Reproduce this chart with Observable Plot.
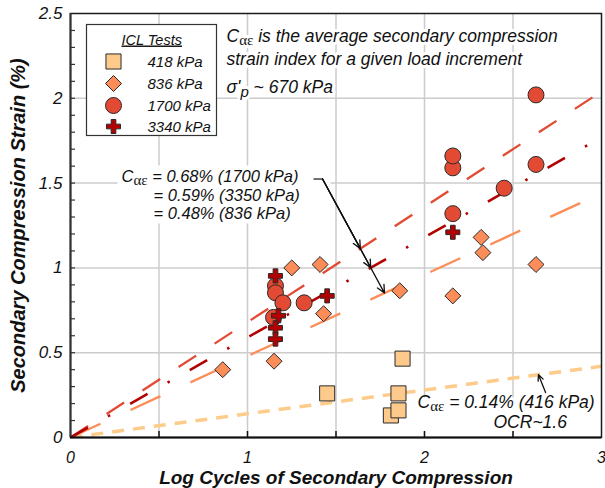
<!DOCTYPE html>
<html><head><meta charset="utf-8">
<script src="https://cdn.jsdelivr.net/npm/d3@7"></script>
<script src="https://cdn.jsdelivr.net/npm/@observablehq/plot@0.6"></script>
<style>
html,body{margin:0;padding:0;background:#fff;}
</style>
</head><body><div id="chart"></div>
<script>
// ---------------- data ----------------
const x418 = [1.45, 1.876, 1.853, 1.81, 1.853];
const y418 = [0.26, 0.465, 0.26, 0.13, 0.16];
const x836 = [0.86, 1.15, 1.25, 1.41, 1.43, 1.86, 2.16, 2.32, 2.33, 2.63];
const y836 = [0.40, 0.45, 1.00, 1.02, 0.73, 0.865, 0.835, 1.18, 1.09, 1.02];
const x1700 = [1.158, 1.158, 1.20, 1.147, 1.32, 2.16, 2.16, 2.16, 2.45, 2.63, 2.63];
const y1700 = [0.894, 0.853, 0.794, 0.708, 0.794, 1.32, 1.59, 1.66, 1.47, 1.61, 2.02];
const x3340 = [1.158, 1.175, 1.158, 1.158, 1.45, 2.16];
const y3340 = [0.953, 0.718, 0.647, 0.58, 0.835, 1.21];
const seriesNames = ["418 kPa", "836 kPa", "1700 kPa", "3340 kPa"];

// average secondary compression strain index (% per log cycle)
const trendNames = ["416 kPa", "836 kPa", "1700 kPa", "3350 kPa"];
const trendSlopes = [0.14, 0.48, 0.68, 0.59];

const xTicks = [0, 1, 2, 3];
const yTicks = [0, 0.5, 1, 1.5, 2, 2.5];
const xGrid = [0.5, 1, 1.5, 2, 2.5];
const yGrid = [0.5, 1, 1.5, 2];

const xTitle = "Log Cycles of Secondary Compression";
const yTitle = "Secondary Compression Strain (%)";
const legendTitle = "ICL Tests";
const noteLines = ["C_{αε} is the average secondary compression", "strain index for a given load increment", "σ'_{p} ~ 670 kPa"];
const calloutLines = ["C_{αε} = 0.68% (1700 kPa)", "= 0.59% (3350 kPa)", "= 0.48% (836 kPa)"];
const lowLines = ["C_{αε} = 0.14% (416 kPa)", "OCR~1.6"];

// ---------------- layout / styles ----------------
const W = 605, H = 488;
const M = {top: 13, right: 4, bottom: 51, left: 70};
const FW = W - M.left - M.right, FH = H - M.top - M.bottom;
const FONT = "'Liberation Sans', Arial, sans-serif";
const INK = "#111";
const NOTE_FS = 17.5;
const CALL_FS = 16.5;

const seriesX = [x418, x836, x1700, x3340];
const seriesY = [y418, y836, y1700, y3340];
const sStyle = [
  {symbol: "square", fill: "#fdca8c", r: 8.5},
  {symbol: "diamond2", fill: "#fc8d59", r: 7.2},
  {symbol: "circle", fill: "#e34a33", r: 8},
  {symbol: "cross", fill: "#b30000", r: 5.9}
];
const tStyle = [
  {stroke: "#fdcc8a", dash: "12,9", w: 3.5},
  {stroke: "#fc8d59", dash: "33,33", w: 2.3},
  {stroke: "#e34a33", dash: "21,22", w: 2.3},
  {stroke: "#b30000", dash: "20,23,2.5,23", w: 2.6}
];

const xMax = 3, yMax = 2.5;
const marks = [];

// grid
marks.push(Plot.gridX({ticks: xGrid, stroke: "#cccccc", strokeOpacity: 1, strokeWidth: 1.5}));
marks.push(Plot.gridY({ticks: yGrid, stroke: "#cccccc", strokeOpacity: 1, strokeWidth: 1.5}));

// white boxes (legend + callouts)
marks.push(Plot.frame({fill: "white", stroke: "#333", strokeWidth: 1.2,
  insetLeft: 16, insetTop: 11, insetRight: 601 - 216, insetBottom: 437 - 135}));
marks.push(Plot.frame({fill: "white", stroke: "none",
  insetLeft: 117 - 70, insetTop: 165 - 13, insetRight: 601 - 330, insetBottom: 437 - 223}));
marks.push(Plot.frame({fill: "white", stroke: "none",
  insetLeft: 413 - 70, insetTop: 397 - 13, insetRight: 1, insetBottom: 6}));

// trend lines through origin
trendNames.forEach((name, i) => {
  const s = trendSlopes[i];
  const pts = [{x: 0, y: 0}, {x: xMax, y: s * xMax}];
  marks.push(Plot.line(pts, {x: "x", y: "y", stroke: tStyle[i].stroke, strokeWidth: tStyle[i].w,
    strokeDasharray: tStyle[i].dash, strokeLinecap: "butt", clip: true}));
});

// callout leader with three arrowheads onto the trend lines
const leadStart = {x: 1.424, y: 1.524};
const leadTextX = 1.373;
const leadEndX = 1.774; // on the 836 kPa line
const s836 = trendSlopes[1];
const mLead = (leadStart.y - s836 * leadEndX) / (leadEndX - leadStart.x);
const leadTargets = [trendSlopes[2], trendSlopes[3], trendSlopes[1]].map(s => {
  const x = (leadStart.y + mLead * leadStart.x) / (s + mLead);
  return {x, y: s * x};
});
marks.push(Plot.link([leadStart], {x1: () => leadTextX, y1: "y", x2: "x", y2: "y", stroke: INK, strokeWidth: 1.2}));
marks.push(Plot.arrow(leadTargets, {x1: () => leadStart.x, y1: () => leadStart.y, x2: "x", y2: "y",
  stroke: INK, strokeWidth: 1.3, headLength: 10, headAngle: 50}));

// arrow to the 416 kPa line
const lowStart = {x: 2.684, y: 0.265};
const lowTargetX = 2.644;
marks.push(Plot.arrow([{x: lowTargetX, y: trendSlopes[0] * lowTargetX}], {x1: () => lowStart.x, y1: () => lowStart.y,
  x2: "x", y2: "y", stroke: INK, strokeWidth: 1.3, headLength: 10, headAngle: 50}));

// data points
seriesNames.forEach((name, i) => {
  const pts = seriesX[i].map((x, j) => ({x, y: seriesY[i][j]}));
  marks.push(Plot.dot(pts, {x: "x", y: "y", symbol: sStyle[i].symbol, r: sStyle[i].r,
    fill: sStyle[i].fill, fillOpacity: 1, stroke: "#2a2a2a", strokeWidth: 1}));
});

// frame, ticks, axes
marks.push(Plot.tickY(d3.range(1, 25).map(d => d / 10), {y: d => d, stroke: "#333", strokeWidth: 1.2, insetRight: FW - 5}));
marks.push(Plot.tickX(xGrid, {x: d => d, stroke: "#111", strokeWidth: 1.5, insetTop: FH - 6}));
marks.push(Plot.frame({stroke: "#1a1a1a", strokeWidth: 1.5}));
marks.push(Plot.ruleX([0], {stroke: "#333", strokeWidth: 2}));
marks.push(Plot.ruleY([0], {stroke: "#111", strokeWidth: 2}));
marks.push(Plot.axisX({ticks: xTicks, tickSize: 0, tickPadding: 14, tickFormat: d => String(d),
  fontSize: 16, fontStyle: "italic", fill: INK, label: null}));
marks.push(Plot.axisY({ticks: yTicks, tickSize: 0, tickPadding: 8, tickFormat: d => String(d),
  fontSize: 17, fontStyle: "italic", fill: INK, label: null}));

// axis titles
marks.push(Plot.text([xTitle], {frameAnchor: "bottom", dy: 40.5, text: d => d, fontSize: 19, fontWeight: "bold",
  fontStyle: "italic", fill: INK, textAnchor: "middle", lineAnchor: "middle"}));
marks.push(Plot.text([yTitle], {frameAnchor: "left", dx: -52, rotate: -90, text: d => d, fontSize: 20,
  fontWeight: "bold", fontStyle: "italic", fill: INK, textAnchor: "middle", lineAnchor: "middle"}));

// legend
marks.push(Plot.text([legendTitle], {frameAnchor: "top-left", dx: 51, dy: 31, text: d => d, textAnchor: "start",
  lineAnchor: "bottom", fontSize: 14.5, fontStyle: "italic", fill: INK}));
const legRows = [48, 70, 92, 113];
seriesNames.forEach((name, i) => {
  marks.push(Plot.dot([name], {frameAnchor: "top-left", dx: 43, dy: legRows[i], symbol: sStyle[i].symbol,
    r: sStyle[i].r, fill: sStyle[i].fill, stroke: "#2a2a2a", strokeWidth: 1}));
  marks.push(Plot.text([name], {frameAnchor: "top-left", dx: 77, dy: legRows[i] + 5, text: d => d,
    textAnchor: "start", lineAnchor: "bottom", fontSize: 15, fontStyle: "italic", fill: INK}));
});

// annotation texts
const noteBase = [28, 51, 79];
noteLines.forEach((t, i) => {
  marks.push(Plot.text([t], {frameAnchor: "top-left", dx: 156, dy: noteBase[i], text: d => d, textAnchor: "start",
    lineAnchor: "bottom", fontSize: NOTE_FS, fontStyle: "italic", fill: INK, stroke: "white", strokeWidth: 6,
    paintOrder: "stroke"}));
});
const calloutPos = [[51, 168.5], [83, 187], [83, 205.5]];
calloutLines.forEach((t, i) => {
  marks.push(Plot.text([t], {frameAnchor: "top-left", dx: calloutPos[i][0], dy: calloutPos[i][1], text: d => d,
    textAnchor: "start", lineAnchor: "bottom", fontSize: CALL_FS, fontStyle: "italic", fill: INK}));
});
const lowPos = [[347, 394], [423, 414]];
lowLines.forEach((t, i) => {
  marks.push(Plot.text([t], {frameAnchor: "top-left", dx: lowPos[i][0], dy: lowPos[i][1], text: d => d,
    textAnchor: "start", lineAnchor: "bottom", fontSize: NOTE_FS, fontStyle: "italic", fill: INK}));
});

const chart = Plot.plot({
  width: W, height: H,
  marginTop: M.top, marginRight: M.right, marginBottom: M.bottom, marginLeft: M.left,
  x: {domain: [0, xMax], axis: null},
  y: {domain: [0, yMax], axis: null},
  style: {fontFamily: FONT, background: "white", color: INK, overflow: "visible"},
  marks
});

// subscripts: "_{...}" -> tspan
function richify(svg) {
  svg.querySelectorAll("text").forEach(t => {
    const s = t.textContent;
    if (t.querySelector("tspan") || !/_\{/.test(s)) return;
    t.textContent = "";
    const NS = "http://www.w3.org/2000/svg";
    const re = /_\{([^}]*)\}/g;
    let last = 0, m, shift = 0;
    const addNormal = str => {
      if (!str) return;
      const ts = document.createElementNS(NS, "tspan");
      if (shift) { ts.setAttribute("dy", -shift); shift = 0; }
      ts.textContent = str;
      t.appendChild(ts);
    };
    while ((m = re.exec(s))) {
      addNormal(s.slice(last, m.index));
      const sub = m[1];
      const ts = document.createElementNS(NS, "tspan");
      const greek = /[\u03b1-\u03c9]/.test(sub);
      const sh = greek ? 3 : 4;
      ts.setAttribute("dy", sh - shift);
      shift = sh;
      ts.setAttribute("font-size", 15);
      if (greek) { ts.setAttribute("font-family", "'Liberation Serif', 'Times New Roman', serif"); ts.setAttribute("font-style", "normal"); }
      ts.textContent = sub;
      t.appendChild(ts);
      last = m.index + m[0].length;
    }
    addNormal(s.slice(last));
  });
  svg.querySelectorAll("text").forEach(t => {
    if (t.textContent === legendTitle) t.setAttribute("text-decoration", "underline");
  });
}
richify(chart);
document.getElementById("chart").appendChild(chart);
</script>
</body></html>
